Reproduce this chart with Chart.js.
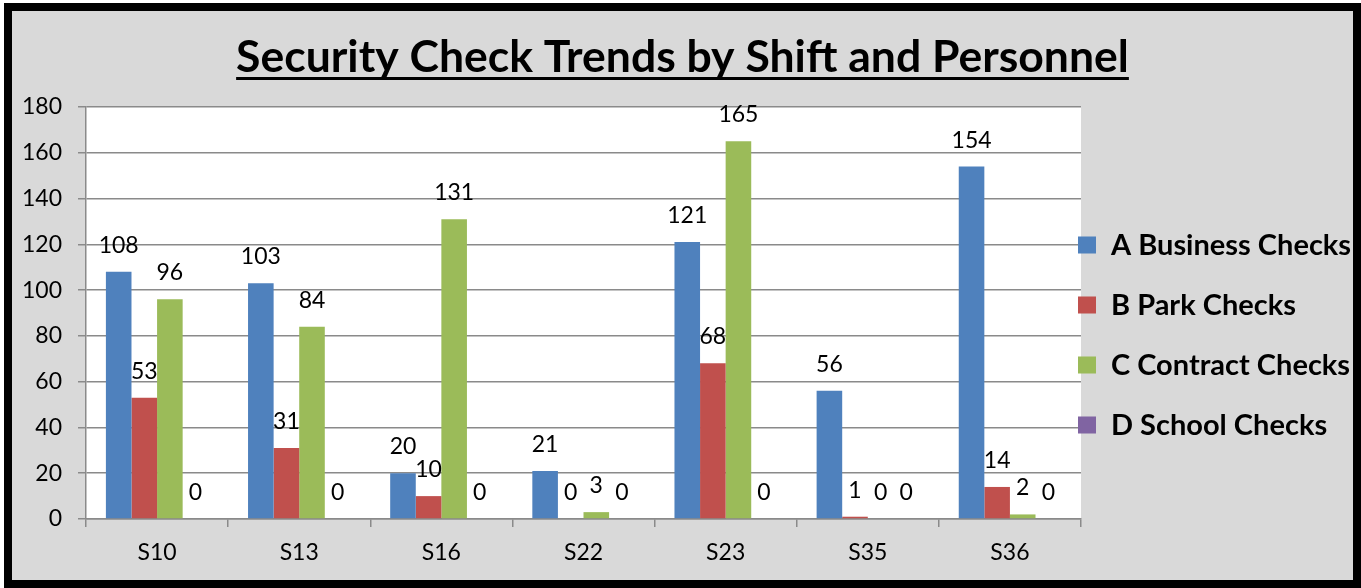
<!DOCTYPE html>
<html>
<head>
<meta charset="utf-8">
<script src="https://cdn.jsdelivr.net/npm/chart.js@4.4.1/dist/chart.umd.min.js"></script>
<style>
    html, body { margin: 0; padding: 0; background: #fff; }
    #frame {
        position: absolute;
        left: 4px; top: 3px;
        width: 1357px; height: 585px;
        box-sizing: border-box;
        border: 8px solid #000;
        background: #d9d9d9;
    }
    #wrap { position: relative; width: 1341px; height: 569px; }
</style>
</head>
<body>
<div id="frame"><div id="wrap"><canvas id="chart"></canvas></div></div>
<script>
// Chart data
const chartTitle = 'Security Check Trends by Shift and Personnel';
const shifts = ['S10', 'S13', 'S16', 'S22', 'S23', 'S35', 'S36'];
const businessChecks = [108, 103, 20, 21, 121, 56, 154];
const parkChecks = [53, 31, 10, 0, 68, 1, 14];
const contractChecks = [96, 84, 131, 3, 165, 0, 2];
const schoolChecks = [0, 0, 0, 0, 0, 0, 0];
const seriesNames = ['A Business Checks', 'B Park Checks', 'C Contract Checks', 'D School Checks'];
const seriesColors = ['#4f81bd', '#c0504d', '#9bbb59', '#8064a2'];
const yTicks = [0, 20, 40, 60, 80, 100, 120, 140, 160, 180];

const FONT = 'Lato, "Open Sans", sans-serif';
const GRID = '#8a8a8a';

Chart.defaults.color = '#000';
Chart.defaults.font.family = FONT;

// White plot area
const plotBackground = {
    id: 'plotBackground',
    beforeDraw(chart) {
        const { ctx, chartArea: a } = chart;
        ctx.save();
        ctx.fillStyle = '#fff';
        ctx.fillRect(a.left, a.top, a.right - a.left, a.bottom - a.top);
        ctx.restore();
    }
};

// Underlined title, centred on the whole canvas
const underlinedTitle = {
    id: 'underlinedTitle',
    afterDraw(chart) {
        const ctx = chart.ctx;
        const cx = chart.width / 2;
        ctx.save();
        ctx.font = `bold 44.5px ${FONT}`;
        ctx.fillStyle = '#000';
        ctx.textAlign = 'center';
        ctx.textBaseline = 'alphabetic';
        ctx.fillText(chartTitle, cx, 61);
        const w = ctx.measureText(chartTitle).width;
        ctx.fillRect(cx - w / 2, 66, w, 3);
        ctx.restore();
    }
};

// Value labels above bars
const valueLabels = {
    id: 'valueLabels',
    afterDatasetsDraw(chart) {
        const ctx = chart.ctx;
        ctx.save();
        ctx.font = `23px ${FONT}`;
        ctx.fillStyle = '#000';
        ctx.textAlign = 'center';
        ctx.textBaseline = 'alphabetic';
        chart.data.datasets.forEach((ds, i) => {
            chart.getDatasetMeta(i).data.forEach((bar, j) => {
                ctx.fillText(String(ds.data[j]), bar.x, bar.y - 19);
            });
        });
        ctx.restore();
    }
};

// Legend on the right
const sideLegend = {
    id: 'sideLegend',
    afterDraw(chart) {
        const ctx = chart.ctx;
        const x = chart.chartArea.right - 3;
        const y0 = chart.chartArea.top + 138;
        ctx.save();
        ctx.font = `bold 29px ${FONT}`;
        ctx.textBaseline = 'middle';
        ctx.textAlign = 'left';
        chart.data.datasets.forEach((ds, i) => {
            const cy = y0 + i * 60;
            ctx.fillStyle = ds.backgroundColor;
            ctx.fillRect(x, cy - 8.5, 18, 17);
            ctx.fillStyle = '#000';
            ctx.fillText(ds.label, x + 33, cy + 1);
        });
        ctx.restore();
    }
};

const seriesData = [businessChecks, parkChecks, contractChecks, schoolChecks];

new Chart(document.getElementById('chart'), {
    type: 'bar',
    data: {
        labels: shifts,
        datasets: seriesData.map((d, i) => ({
            label: seriesNames[i],
            data: d,
            backgroundColor: seriesColors[i],
            borderWidth: 0,
            categoryPercentage: 0.72,
            barPercentage: 1.0
        }))
    },
    options: {
        responsive: true,
        maintainAspectRatio: false,
        animation: false,
        layout: { padding: { left: 0, right: 272, top: 96, bottom: 0 } },
        plugins: {
            legend: { display: false },
            tooltip: { enabled: false },
            title: { display: false }
        },
        scales: {
            x: {
                afterFit: (s) => { s.height = 61; },
                grid: {
                    display: true,
                    drawOnChartArea: false,
                    drawTicks: true,
                    tickLength: 8,
                    color: GRID,
                    lineWidth: 1.5
                },
                border: { display: true, color: GRID, width: 1.5 },
                ticks: { font: { size: 23 }, padding: 12, color: '#000' }
            },
            y: {
                min: 0,
                max: 180,
                afterFit: (s) => { s.width = 74; },
                afterBuildTicks: (s) => { s.ticks = yTicks.map(v => ({ value: v })); },
                grid: {
                    color: GRID,
                    lineWidth: 1.5,
                    tickLength: 8
                },
                border: { display: true, color: GRID, width: 1.5 },
                ticks: { font: { size: 23 }, padding: 16, color: '#000' }
            }
        }
    },
    plugins: [plotBackground, underlinedTitle, valueLabels, sideLegend]
});
</script>
</body>
</html>
